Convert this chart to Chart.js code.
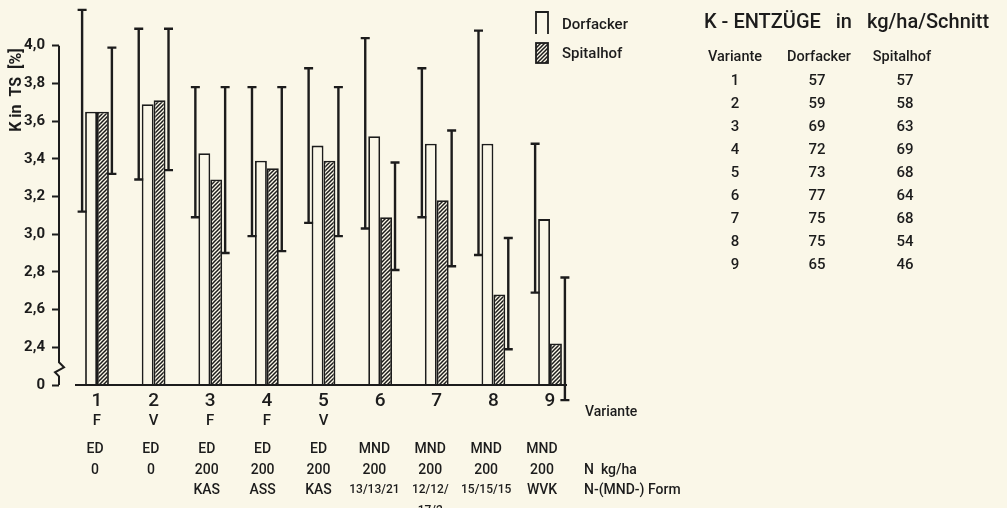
<!DOCTYPE html>
<html><head><meta charset="utf-8">
<script src="https://cdn.jsdelivr.net/npm/chart.js@4.4.1/dist/chart.umd.min.js"></script>
<style>
html,body{margin:0;padding:0;background:#faf7e8;}
#wrap{position:relative;width:1007px;height:508px;overflow:hidden;background:#faf7e8;}
#c{position:absolute;left:0;top:0;}
.t{position:absolute;font-family:Roboto,'DejaVu Sans',sans-serif;font-weight:500;color:#1c1c1c;white-space:pre;line-height:1;}
</style></head><body>
<div id="wrap"><canvas id="c" width="1007" height="508"></canvas><div id="tbl"></div></div>
<script>
// ---- data ----
const variants = [1, 2, 3, 4, 5, 6, 7, 8, 9];
const dorfacker = [3.65, 3.69, 3.43, 3.39, 3.47, 3.52, 3.48, 3.48, 3.08];
const spitalhof = [3.65, 3.71, 3.29, 3.35, 3.39, 3.09, 3.18, 2.68, 2.42];
const dorfackerLow = [3.12, 3.29, 3.09, 2.99, 3.06, 3.03, 3.09, 2.89, 2.69];
const dorfackerHigh = [4.19, 4.09, 3.78, 3.78, 3.88, 4.04, 3.88, 4.08, 3.48];
const spitalhofLow = [3.32, 3.34, 2.90, 2.91, 2.99, 2.81, 2.83, 2.39, 2.12];
const spitalhofHigh = [3.99, 4.09, 3.78, 3.78, 3.78, 3.38, 3.55, 2.98, 2.77];
const yTickValues = [2.2, 2.4, 2.6, 2.8, 3.0, 3.2, 3.4, 3.6, 3.8, 4.0];
const yTickLabels = ['0', '2,4', '2,6', '2,8', '3,0', '3,2', '3,4', '3,6', '3,8', '4,0'];
const variantLetter = ['F', 'V', 'F', 'F', 'V', '', '', '', ''];
const fertilizer = ['ED', 'ED', 'ED', 'ED', 'ED', 'MND', 'MND', 'MND', 'MND'];
const nRate = ['0', '0', '200', '200', '200', '200', '200', '200', '200'];
const nForm = ['', '', 'KAS', 'ASS', 'KAS', '13/13/21', '12/12/\n17/2', '15/15/15', 'WVK'];
const tableTitle = 'K - ENTZÜGE   in   kg/ha/Schnitt';
const tableHeader = ['Variante', 'Dorfacker', 'Spitalhof'];
const kDorfacker = [57, 59, 69, 72, 73, 77, 75, 75, 65];
const kSpitalhof = [57, 58, 63, 69, 68, 64, 68, 54, 46];

// ---- style ----
const BG = '#faf7e8';
const INK = '#1c1c1c';
const FONT = "Roboto, 'DejaVu Sans', sans-serif";
const W = '500 ';

const canvas = document.getElementById('c');
const ctx = canvas.getContext('2d');

function makeHatch() {
  const s = 4;
  const p = document.createElement('canvas');
  p.width = s; p.height = s;
  const g = p.getContext('2d');
  g.fillStyle = BG; g.fillRect(0, 0, s, s);
  g.strokeStyle = INK; g.lineWidth = 1.5;
  g.beginPath();
  g.moveTo(-1, s + 1); g.lineTo(s + 1, -1);
  g.moveTo(-1, 1); g.lineTo(1, -1);
  g.moveTo(s - 1, s + 1); g.lineTo(s + 1, s - 1);
  g.stroke();
  return ctx.createPattern(p, 'repeat');
}
const hatch = makeHatch();

const decor = {
  id: 'decor',
  afterDatasetsDraw(chart) {
    const c = chart.ctx;
    const xs = chart.scales.x, ys = chart.scales.y;
    const area = chart.chartArea;
    c.save();
    c.strokeStyle = INK; c.fillStyle = INK; c.lineCap = 'butt';

    // baseline
    const y0 = ys.getPixelForValue(2.2);
    c.lineWidth = 2;
    c.beginPath(); c.moveTo(area.left + 16, y0); c.lineTo(area.right, y0); c.stroke();

    // y axis line with break
    const yTop = ys.getPixelForValue(4.0);
    const y24 = ys.getPixelForValue(2.4);
    const ax = area.left;
    c.beginPath();
    c.moveTo(ax, yTop);
    c.lineTo(ax, y24 + 15);
    c.lineTo(ax + 5, y24 + 20);
    c.lineTo(ax - 4, y24 + 25);
    c.lineTo(ax, y24 + 29);
    c.lineTo(ax, y0);
    c.stroke();

    // error bars
    const lows = [dorfackerLow, spitalhofLow];
    const highs = [dorfackerHigh, spitalhofHigh];
    c.lineWidth = 2.4;
    [0, 1].forEach(d => {
      const meta = chart.getDatasetMeta(d);
      meta.data.forEach((el, j) => {
        const x = d === 0 ? el.x - el.width / 2 - 3 : el.x + el.width / 2 + 3;
        const yh = ys.getPixelForValue(highs[d][j]);
        const yl = ys.getPixelForValue(lows[d][j]);
        c.beginPath();
        c.moveTo(x, yh); c.lineTo(x, yl);
        c.moveTo(x - 4.5, yh); c.lineTo(x + 4.5, yh);
        c.moveTo(x - 4.5, yl); c.lineTo(x + 4.5, yl);
        c.stroke();
      });
    });

    // legend
    const lx = 536, lw = 12;
    c.lineWidth = 1.8;
    c.beginPath();
    c.moveTo(lx, 34); c.lineTo(lx, 12); c.lineTo(lx + lw, 12); c.lineTo(lx + lw, 34);
    c.stroke();
    c.fillStyle = hatch;
    c.fillRect(lx, 43, lw, 20);
    c.strokeRect(lx, 43, lw, 20);
    c.fillStyle = INK;
    c.font = W + '15px ' + FONT;
    c.textAlign = 'left'; c.textBaseline = 'middle';
    chart.data.datasets.forEach((ds, i) => c.fillText(ds.label, 562, i === 0 ? 25 : 54));

    // y title
    c.save();
    c.translate(17, 90);
    c.rotate(-Math.PI / 2);
    c.textAlign = 'center'; c.textBaseline = 'middle';
    c.font = 'bold 16px ' + FONT;
    c.fillText('K in  TS  [%]', 0, 0);
    c.restore();

    // rows under axis
    c.textAlign = 'center'; c.textBaseline = 'middle';
    const b = area.bottom;
    variants.forEach((v, i) => {
      const px = xs.getPixelForValue(v);
      const px2 = px - 2 - i * 0.75;
      c.font = W + '15px ' + FONT;
      if (variantLetter[i]) c.fillText(variantLetter[i], px, b + 36);
      c.font = W + '14px ' + FONT;
      c.fillText(fertilizer[i], px2, b + 64);
      c.fillText(nRate[i], px2, b + 85);
      const f = nForm[i];
      if (f) {
        const lines = f.split('\n');
        const small = /\d/.test(f);
        c.font = W + (small ? '12px ' : '14px ') + FONT;
        lines.forEach((ln, k) => c.fillText(ln, px2, b + 105 + k * 21));
      }
    });
    c.textAlign = 'left';
    c.font = W + '14px ' + FONT;
    const rx = area.right + 17;
    c.fillText('Variante', rx + 1, b + 27);
    c.fillText('N  kg/ha', rx, b + 85);
    c.fillText('N-(MND-) Form', rx, b + 105);
    c.restore();
  }
};

new Chart(ctx, {
  type: 'bar',
  data: {
    datasets: [
      { label: 'Dorfacker', data: variants.map((v, i) => ({ x: v, y: dorfacker[i] })),
        backgroundColor: BG, borderColor: INK, borderWidth: 1.8 },
      { label: 'Spitalhof', data: variants.map((v, i) => ({ x: v, y: spitalhof[i] })),
        backgroundColor: hatch, borderColor: INK, borderWidth: 1.8 }
    ]
  },
  options: {
    responsive: false,
    animation: false,
    devicePixelRatio: 1,
    categoryPercentage: 0.42,
    barPercentage: 1,
    layout: { padding: { top: 8, right: 440, bottom: 0, left: 0 } },
    plugins: { legend: { display: false }, tooltip: { enabled: false } },
    scales: {
      x: {
        type: 'linear', offset: false, min: 0.329, max: 9.3,
        grid: { display: false, drawTicks: false, offset: false },
        border: { display: false },
        afterBuildTicks: s => { s.ticks = variants.map(v => ({ value: v })); },
        afterFit: s => { s.height = 123; s.paddingLeft = 0; s.paddingRight = 0; },
        ticks: { color: INK, font: { family: FONT, size: 19, weight: '500' }, padding: 5, maxRotation: 0, autoSkip: false,
                 callback: v => String(v) }
      },
      y: {
        min: 2.2, max: 4.2,
        afterBuildTicks: s => { s.ticks = yTickValues.map(v => ({ value: v })); },
        afterFit: s => { s.width = 59; s.paddingTop = 0; s.paddingBottom = 0; },
        grid: { drawOnChartArea: false, drawTicks: true, tickLength: 7, tickColor: INK, tickWidth: 2 },
        border: { display: false },
        ticks: { padding: 7, color: INK, font: { family: FONT, size: 15, weight: 'bold' },
                 callback: (v, i) => yTickLabels[i] }
      }
    }
  },
  plugins: [decor]
});

// ---- side table (HTML text) ----
const tbl = document.getElementById('tbl');
function addText(txt, x, y, size, align) {
  const d = document.createElement('div');
  d.className = 't';
  d.textContent = txt;
  d.style.fontSize = size + 'px';
  d.style.top = (y - size / 2) + 'px';
  if (align === 'center') { d.style.left = (x - 100) + 'px'; d.style.width = '200px'; d.style.textAlign = 'center'; }
  else { d.style.left = x + 'px'; }
  tbl.appendChild(d);
}
addText(tableTitle, 704, 21, 20, 'left');
const colX = [735, 819, 902];
tableHeader.forEach((h, i) => addText(h, colX[i], 57, 14.5, 'center'));
variants.forEach((v, r) => {
  const y = 80.5 + r * 23;
  addText(String(v), colX[0], y, 15, 'center');
  addText(String(kDorfacker[r]), colX[1] - 2, y, 15, 'center');
  addText(String(kSpitalhof[r]), colX[2] + 3, y, 15, 'center');
});
</script>
</body></html>
